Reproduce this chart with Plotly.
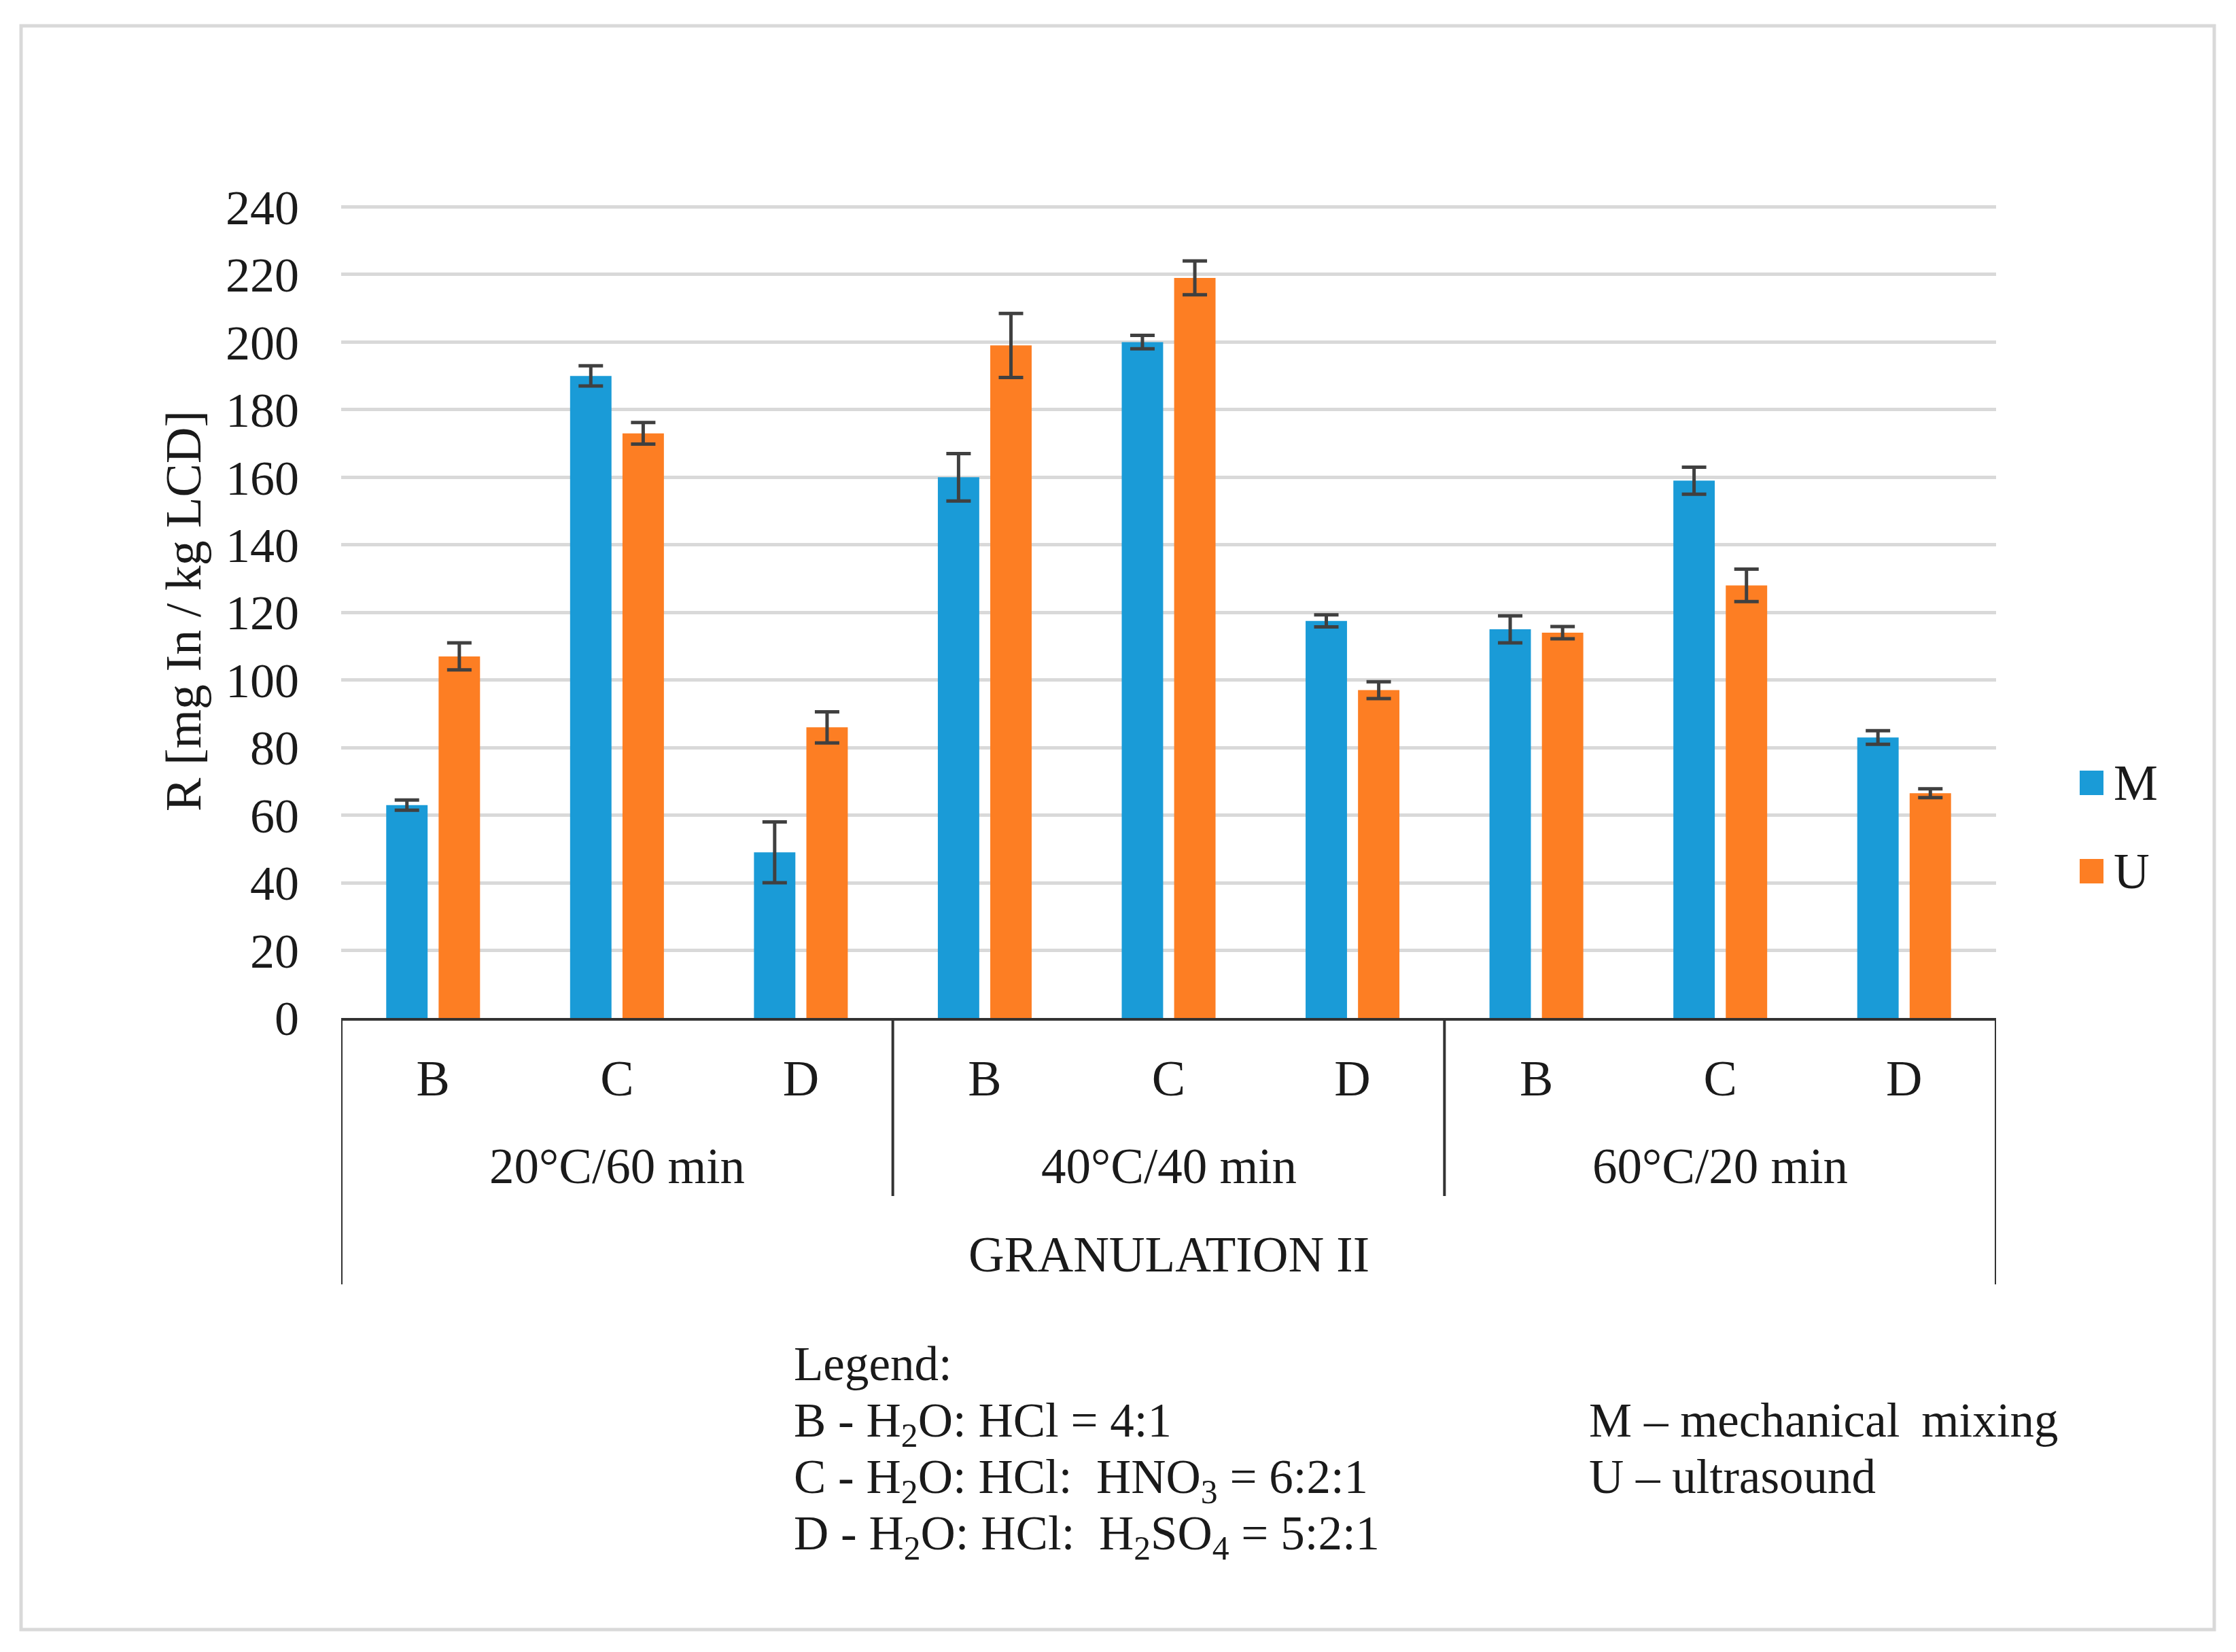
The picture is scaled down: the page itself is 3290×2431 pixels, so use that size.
import plotly.graph_objects as go

# ---- data ----
groups = ["20°C/60 min", "40°C/40 min", "60°C/20 min"]
solutions = ["B", "C", "D"]
outer_label = "GRANULATION II"
series_names = ["M", "U"]
m_values = [63, 190, 49, 160, 200, 117.5, 115, 159, 83]
m_errors = [1.5, 3, 9, 7, 2, 1.8, 4, 4, 2]
u_values = [107, 173, 86, 199, 219, 97, 114, 128, 66.5]
u_errors = [4, 3.2, 4.6, 9.5, 5, 2.5, 1.8, 4.8, 1.3]
y_ticks = [0, 20, 40, 60, 80, 100, 120, 140, 160, 180, 200, 220, 240]
legend_lines = [
    "Legend:",
    "B - H<sub>2</sub>O: HCl = 4:1",
    "C - H<sub>2</sub>O: HCl:  HNO<sub>3</sub> = 6:2:1",
    "D - H<sub>2</sub>O: HCl:  H<sub>2</sub>SO<sub>4</sub> = 5:2:1",
]
method_lines = ["M – mechanical&#8201; mixing", "U – ultrasound"]

BLUE = "#1A9BD7"
ORANGE = "#FD7E23"
FONT = "Liberation Serif"
TXT = "#1a1a1a"

W, H = 3290, 2431
DX, DY = -8, -8
L, R, T, B = 502 + DX, 353 - DX, 300 + DY, 933 - DY
PW, PH = W - L - R, H - T - B


def px_x(p):
    return (p + DX - L) / PW


def px_y(p):
    return (H - B - (p + DY)) / PH


n_cat = len(groups) * len(solutions)
xs = list(range(n_cat))
tick_text = [s for _ in groups for s in solutions]

fig = go.Figure()
fig.add_trace(go.Bar(
    x=xs, y=m_values, name=series_names[0], marker=dict(color=BLUE, line=dict(width=0)),
    error_y=dict(type="data", array=m_errors, color="#404040", thickness=5, width=18),
    showlegend=False,
))
fig.add_trace(go.Bar(
    x=xs, y=u_values, name=series_names[1], marker=dict(color=ORANGE, line=dict(width=0)),
    error_y=dict(type="data", array=u_errors, color="#404040", thickness=5, width=18),
    showlegend=False,
))

shapes = []
annotations = []
# category box lines below the axis
y_div = px_y(1760)
y_outer = px_y(1890)
shapes.append(dict(type="line", xref="x", yref="paper", x0=-0.5, x1=-0.5, y0=0, y1=y_outer,
                   line=dict(color="#333333", width=4)))
shapes.append(dict(type="line", xref="x", yref="paper", x0=n_cat - 0.5, x1=n_cat - 0.5, y0=0, y1=y_outer,
                   line=dict(color="#333333", width=4)))
for g in range(1, len(groups)):
    xd = g * len(solutions) - 0.5
    shapes.append(dict(type="line", xref="x", yref="paper", x0=xd, x1=xd, y0=0, y1=y_div,
                       line=dict(color="#333333", width=4)))

for g, name in enumerate(groups):
    annotations.append(dict(x=g * len(solutions) + 1, y=px_y(1716), xref="x", yref="paper",
                            text=name, showarrow=False, xanchor="center", yanchor="middle",
                            font=dict(family=FONT, size=73, color=TXT)))
annotations.append(dict(x=(n_cat - 1) / 2, y=px_y(1846), xref="x", yref="paper",
                        text=outer_label, showarrow=False, xanchor="center", yanchor="middle",
                        font=dict(family=FONT, size=73, color=TXT)))

# series legend (right)
for i, (nm, col) in enumerate(zip(series_names, [BLUE, ORANGE])):
    yc = 1152 + i * 130
    shapes.append(dict(type="rect", xref="paper", yref="paper",
                       x0=px_x(3060), x1=px_x(3095), y0=px_y(yc - 18), y1=px_y(yc + 18),
                       fillcolor=col, line=dict(width=0)))
    annotations.append(dict(x=px_x(3108), y=px_y(yc), xref="paper", yref="paper", text=nm,
                            showarrow=False, xanchor="left", yanchor="middle",
                            font=dict(family=FONT, size=73, color=TXT)))

# explanatory legend (bottom)
tops = [1966, 2049, 2132, 2215]
for line, tp in zip(legend_lines, tops):
    annotations.append(dict(x=px_x(1166), y=px_y(tp), xref="paper", yref="paper", text=line,
                            showarrow=False, xanchor="left", yanchor="top", align="left",
                            font=dict(family=FONT, size=71, color=TXT)))
for line, tp in zip(method_lines, tops[1:3]):
    annotations.append(dict(x=px_x(2336), y=px_y(tp), xref="paper", yref="paper", text=line,
                            showarrow=False, xanchor="left", yanchor="top", align="left",
                            font=dict(family=FONT, size=71, color=TXT)))

# outer frame
shapes.append(dict(type="rect", xref="paper", yref="paper",
                   x0=px_x(31), x1=px_x(3258), y0=px_y(2398), y1=px_y(38),
                   line=dict(color="#d9d9d9", width=5), fillcolor="rgba(0,0,0,0)"))

fig.update_layout(
    width=W, height=H,
    margin=dict(l=L, r=R, t=T, b=B, autoexpand=False),
    paper_bgcolor="white", plot_bgcolor="white",
    barmode="group", bargap=0.43, bargroupgap=0.21,
    shapes=shapes, annotations=annotations,
    showlegend=False,
    font=dict(family=FONT, color=TXT),
)
fig.update_xaxes(
    range=[-0.5, n_cat - 0.5], tickmode="array", tickvals=xs, ticktext=tick_text,
    showgrid=False, showline=True, linecolor="#333333", linewidth=4, zeroline=False,
    ticks="", tickfont=dict(family=FONT, size=74, color=TXT), ticklabelstandoff=21,
)
fig.update_yaxes(
    range=[0, 240.9], tickmode="array", tickvals=y_ticks,
    showgrid=True, gridcolor="#d9d9d9", gridwidth=5, zeroline=False, showline=False,
    ticks="", tickfont=dict(family=FONT, size=72, color=TXT), ticklabelstandoff=61,
    title=dict(text="R [mg In / kg LCD]", font=dict(family=FONT, size=74, color=TXT), standoff=12),
)

fig.write_html("out.html")
